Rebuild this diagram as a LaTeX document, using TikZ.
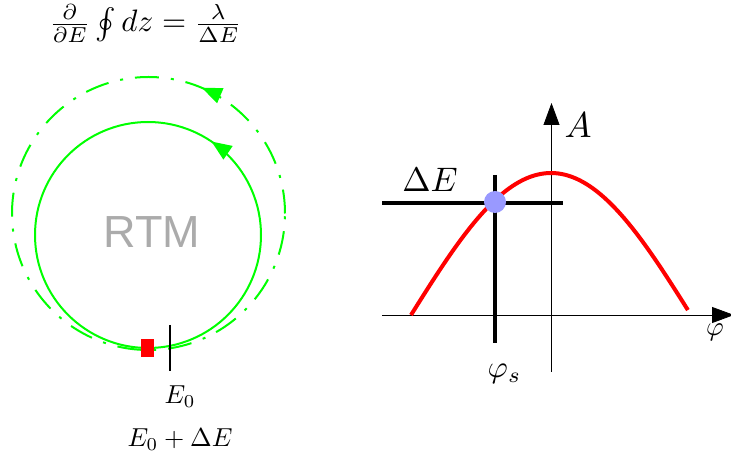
\documentclass[tikz,border=0pt]{standalone}
\usepackage{fontspec}
\newfontfamily\rtmfont{Liberation Sans}
\usetikzlibrary{arrows.meta,decorations.markings}
\newcommand{\scmath}[2][2.6]{\scalebox{#1}{$#2$}}
\begin{document}
\begin{tikzpicture}[x=1pt,y=1pt,
  lbl/.style={inner sep=0pt},
  grn/.style={draw=green, line width=2pt},
  garrow/.style={decoration={markings, mark=at position #1 with {\arrow{Triangle[length=20pt,width=16pt]}}}, postaction={decorate}},
  thick black/.style={draw=black, line width=4pt},
  axis/.style={draw=black, line width=0.8pt, -{Triangle[length=22pt,width=16pt]}}]
\useasboundingbox (0,0) rectangle (731,458);
\clip (0,0) rectangle (731,458);
% left part
\node[lbl, anchor=base] (formula) at (145.5,426) {\scmath[3.1]{\frac{\partial}{\partial E}\mathop{\smash{\oint}}\nolimits dz = \frac{\lambda}{\Delta E}}};
\node[inner sep=0pt, text=black!33, font=\rtmfont\fontsize{45}{50}\selectfont] (rtm) at (152,226) {RTM};
\draw[grn, dash pattern=on 24pt off 12pt on 3pt off 12pt, garrow=0.186]
  (148.5,244.5) circle[radius=136.5pt];
\draw[grn, garrow=0.155]
  (148,223) circle[radius=113pt];
\node[fill=red, minimum width=13pt, minimum height=18pt, inner sep=0pt] (bunch) at (147.5,110) {};
\coordinate (tA) at (170,133);
\coordinate (tB) at (170,87);
\draw[line width=2pt] (tA) -- (tB);
\node[lbl] (e0) at (180,61) {\scmath{E_0}};
\node[lbl] (e0de) at (180,18) {\scmath{E_0+\Delta E}};
% right part
\coordinate (xa) at (382,143);
\coordinate (xb) at (734,143);
\coordinate (ya) at (551.5,86);
\coordinate (yb) at (551.5,355);
\draw[axis] (xa) -- (xb);
\draw[axis] (ya) -- (yb);
\draw[red, line width=4pt] plot[domain=-90:88, samples=80] ({551+\x*140/90},{143+142*cos(\x)});
\coordinate (ha) at (382,255);
\coordinate (hb) at (563,255);
\coordinate (va) at (495,283);
\coordinate (vb) at (495,115);
\draw[thick black] (ha) -- (hb);
\draw[thick black] (va) -- (vb);
\node[circle, fill=blue!40, minimum size=22pt, inner sep=0pt] (dot) at (495,256) {};
\node[lbl] (alab) at (578,333) {\scmath[3.6]{A}};
\node[lbl, anchor=north west] (philab) at (706,134) {\scmath[2.7]{\varphi}};
\node[lbl] (phis) at (504.5,84) {\scmath[3.1]{\varphi_s}};
\node[lbl] (delab) at (430,278) {\scmath[3.4]{\Delta E}};
\end{tikzpicture}
\end{document}
